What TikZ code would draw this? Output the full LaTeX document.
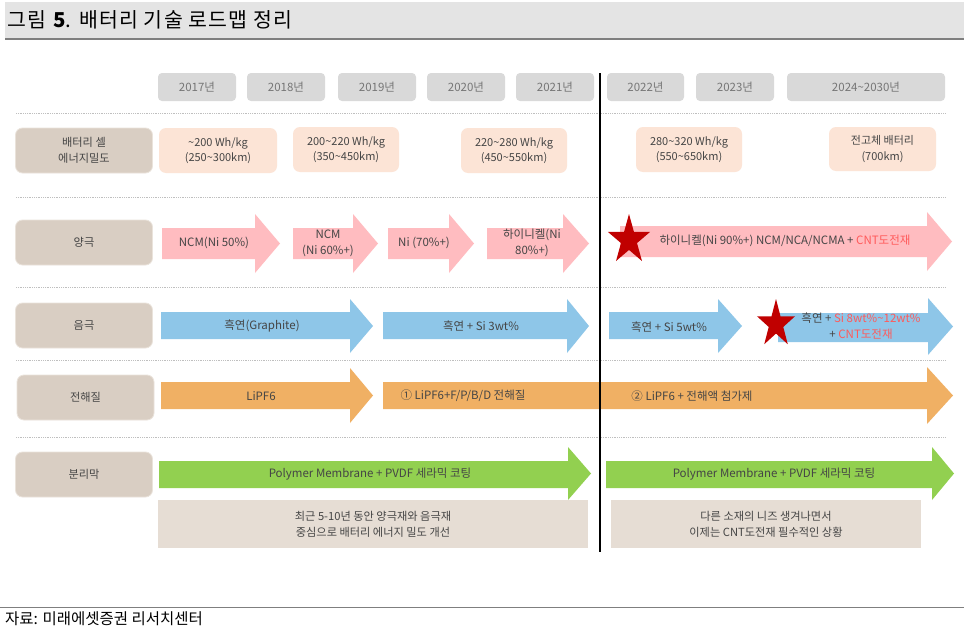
\documentclass[tikz,border=0pt]{standalone}
\usepackage{fontspec}
\setmainfont{Noto Sans CJK KR}
\newfontfamily\titlefont[LetterSpace=6]{Noto Sans CJK KR}
\definecolor{titlec}{HTML}{E4E4E4}
\definecolor{titleline}{HTML}{7F7F7F}
\definecolor{yearc}{HTML}{D9D9D9}
\definecolor{yeartext}{HTML}{767676}
\definecolor{lblc}{HTML}{D9CEC3}
\definecolor{lbledge}{HTML}{EAE3DB}
\definecolor{peachc}{HTML}{FCE4D6}
\definecolor{pinkc}{HTML}{FFBCC0}
\definecolor{bluec}{HTML}{8EC6E8}
\definecolor{orangec}{HTML}{F0B064}
\definecolor{greenc}{HTML}{92D050}
\definecolor{notec}{HTML}{E6DDD4}
\definecolor{txtc}{HTML}{454545}
\definecolor{redtxt}{HTML}{FF5A5A}
\definecolor{starc}{HTML}{C00000}
\definecolor{dotc}{HTML}{BFBFBF}
\newcommand{\blockarrow}[8]{\fill[#8] (#1,#4) -- (#3,#4) -- (#3,#6) -- (#2,{(#6+#7)/2}) -- (#3,#7) -- (#3,#5) -- (#1,#5) -- cycle;}
\newcommand{\redstar}[4]{\fill[starc, shift={(#1,#2)}, xscale=#4] (270:#3) \foreach \a in {0,...,4} { -- ({270+72*\a}:#3) -- ({306+72*\a}:{0.382*#3}) } -- cycle;}
\tikzset{
  yearbox/.style={fill=yearc, rounded corners=4pt, minimum height=28pt, inner sep=0pt, text=yeartext, font=\fontsize{11.5}{13}\selectfont},
  lblbox/.style={fill=lblc, draw=lbledge, line width=0.8pt, rounded corners=7pt, minimum width=137pt, minimum height=45pt, inner sep=0pt, align=center, text=txtc, font=\fontsize{11.2}{15.5}\selectfont},
  peachbox/.style={fill=peachc, rounded corners=7pt, minimum height=45pt, inner sep=0pt, align=center, text=txtc, font=\fontsize{11}{15.5}\selectfont},
  notebox/.style={fill=notec, minimum height=48pt, inner sep=0pt, align=center, text=txtc, font=\fontsize{11.2}{16}\selectfont},
  atext/.style={inner sep=0pt, align=center, text=txtc, font=\fontsize{11.5}{16}\selectfont},
  dotline/.style={draw=dotc, line width=0.8pt, densely dotted},
}
\begin{document}
\begin{tikzpicture}[x=1pt,y=-1pt]
\useasboundingbox (0,0) rectangle (964,637);
\fill[white] (0,0) rectangle (964,637);
% title
\fill[titlec] (5,2) rectangle (964,38);
\draw[titleline, line width=2pt] (5,39) -- (964,39);
\node[anchor=west, inner sep=0pt, font=\titlefont\fontsize{20.5}{24}\selectfont] (title) at (7,20) {그림 \textbf{5}. 배터리 기술 로드맵 정리};
% footer
\draw[titleline, line width=1pt] (0,607) -- (964,607);
\node[anchor=west, inner sep=0pt, font=\fontsize{15.5}{18}\selectfont] (source) at (5,619) {자료: 미래에셋증권 리서치센터};
% years
\node[yearbox, minimum width=78pt] (y17) at (197,87) {2017년};
\node[yearbox, minimum width=78pt] (y18) at (286,87) {2018년};
\node[yearbox, minimum width=78pt] (y19) at (377,87) {2019년};
\node[yearbox, minimum width=78pt] (y20) at (466,87) {2020년};
\node[yearbox, minimum width=78pt] (y21) at (555,87) {2021년};
\node[yearbox, minimum width=77pt] (y22) at (645.5,87) {2022년};
\node[yearbox, minimum width=78pt] (y23) at (735,87) {2023년};
\node[yearbox, minimum width=158pt] (y24) at (866,87) {2024\textasciitilde2030년};
% dotted separators
\foreach \yy in {113,197,287,360,437} { \draw[dotline] (16,\yy) -- (945,\yy); }
% row labels
\node[lblbox] (l1) at (84,150.5) {배터리 셀\\에너지밀도};
\node[lblbox] (l2) at (84,242.5) {양극};
\node[lblbox] (l3) at (84,325.5) {음극};
\node[lblbox] (l4) at (85.5,397.5) {전해질};
\node[lblbox] (l5) at (84,474.5) {분리막};
% energy density
\node[peachbox, minimum width=118pt] (e1) at (218,150.5) {\textasciitilde200 Wh/kg\\(250\textasciitilde300km)};
\node[peachbox, minimum width=106pt] (e2) at (346,149.5) {200\textasciitilde220 Wh/kg\\(350\textasciitilde450km)};
\node[peachbox, minimum width=106pt] (e3) at (514,150.5) {220\textasciitilde280 Wh/kg\\(450\textasciitilde550km)};
\node[peachbox, minimum width=106pt] (e4) at (689,149.5) {280\textasciitilde320 Wh/kg\\(550\textasciitilde650km)};
\node[peachbox, minimum width=107pt, minimum height=44pt] (e5) at (882.5,149) {전고체 배터리\\(700km)};
% cathode arrows
\blockarrow{162}{280}{255}{228}{259}{214}{273}{pinkc}
\blockarrow{293}{378}{353}{228}{259}{214}{273}{pinkc}
\blockarrow{388}{474}{449}{228}{259}{214}{273}{pinkc}
\blockarrow{487}{589}{563}{228}{259}{214}{273}{pinkc}
\blockarrow{620}{952}{927}{226}{257}{212}{271}{pinkc}
\node[atext] (a1) at (214,243) {NCM(Ni 50\%)};
\node[atext] (a2) at (328,243) {NCM\\(Ni 60\%+)};
\node[atext] (a3) at (424,243) {Ni (70\%+)};
\node[atext] (a4) at (532,243) {하이니켈(Ni\\80\%+)};
\node[atext] (a5) at (785,241) {하이니켈(Ni 90\%+) NCM/NCA/NCMA + \textcolor{redtxt}{CNT도전재}};
% anode arrows
\blockarrow{161}{373}{350}{312}{339}{299}{353}{bluec}
\blockarrow{383}{589}{567}{312}{339}{299}{353}{bluec}
\blockarrow{609}{742}{718}{312}{339}{299}{353}{bluec}
\blockarrow{778}{953}{928}{313}{342}{298}{355}{bluec}
\node[atext] (b1) at (262,326) {흑연(Graphite)};
\node[atext] (b2) at (481,326) {흑연 + Si 3wt\%};
\node[atext] (b3) at (669,327) {흑연 + Si 5wt\%};
\node[atext] (b4) at (861,326) {흑연 + \textcolor{redtxt}{Si 8wt\%\textasciitilde12wt\%}\\+ \textcolor{redtxt}{CNT도전재}};
% electrolyte arrows
\blockarrow{161}{373}{350}{382}{409}{368}{423}{orangec}
\blockarrow{383}{953}{927}{382}{409}{367}{424}{orangec}
\node[atext] (c1) at (261,396) {LiPF6};
\node[atext] (c2) at (463,396) {① LiPF6+F/P/B/D 전해질};
\node[atext] (c3) at (692,396) {② LiPF6 + 전해액 첨가제};
% separator arrows
\blockarrow{159}{591}{568}{461}{488}{447}{500}{greenc}
\blockarrow{606}{954}{932}{461}{488}{447}{500}{greenc}
\node[atext] (d1) at (370,474) {Polymer Membrane + PVDF 세라믹 코팅};
\node[atext] (d2) at (774,474) {Polymer Membrane + PVDF 세라믹 코팅};
% notes
\node[notebox, minimum width=430pt] (n1) at (373,524) {최근 5-10년 동안 양극재와 음극재\\중심으로 배터리 에너지 밀도 개선};
\node[notebox, minimum width=310pt] (n2) at (766,524) {다른 소재의 니즈 생겨나면서\\이제는 CNT도전재 필수적인 상황};
% stars
\redstar{629}{240}{26}{0.85}
\redstar{776}{324}{25}{0.8}
% divider
\coordinate (vtop) at (600,73);
\coordinate (vbot) at (600,552);
\draw[black, line width=2.5pt] (vtop) -- (vbot);
\end{tikzpicture}
\end{document}
